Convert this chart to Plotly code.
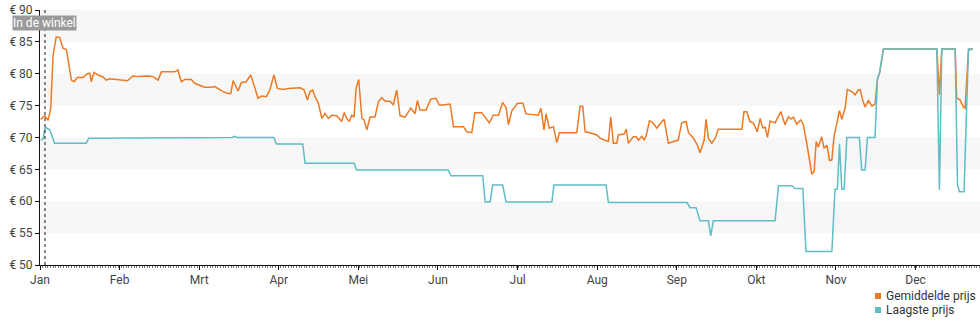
import plotly.graph_objects as go

months = ["Jan", "Feb", "Mrt", "Apr", "Mei", "Jun", "Jul", "Aug", "Sep", "Okt", "Nov", "Dec"]
y_ticks = [50, 55, 60, 65, 70, 75, 80, 85, 90]

avg_day = [0.3, 1.8, 3.1, 4.1, 5.0, 6.2, 7.5, 8.8, 10.1, 12.0, 13.0, 14.3, 16.4, 18.1, 19.0, 19.6, 20.6,
           22.2, 24.1, 25.3, 26.6, 29.8, 33.4, 35.5, 37.5, 41.3, 43.2, 45.1, 46.4, 51.5, 52.7, 54.0, 55.3,
           57.8, 59.1, 61.0, 62.9, 65.4, 66.8, 69.9, 71.9, 72.9, 73.8, 75.7, 76.9, 78.8, 80.5, 81.8, 83.3,
           84.6, 86.5, 87.8, 89.4, 90.7, 92.9, 94.8, 95.5, 97.8, 99.4, 100.9, 102.2, 103.2, 104.2, 105.1,
           106.4, 107.7, 108.9, 110.2, 111.5, 113.4, 115.3, 116.2, 117.2, 118.2, 119.1, 120.0, 120.8, 121.8,
           123.0, 123.8, 124.9, 126.1, 128.0, 129.3, 130.6, 131.9, 133.8, 135.0, 136.3, 137.6, 139.5, 141.7,
           143.3, 144.2, 145.2, 147.5, 149.3, 151.3, 152.6, 154.1, 156.7, 158.0, 161.8, 163.1, 165.0, 166.2,
           168.8, 170.1, 171.7, 173.2, 175.2, 176.8, 178.1, 179.0, 180.3, 182.4, 184.5, 185.7, 190.4, 191.4,
           192.6, 193.4, 194.6, 196.2, 197.5, 198.5, 205.1, 206.4, 207.4, 208.3, 210.2, 212.8, 214.0, 216.3,
           217.2, 218.1, 219.1, 220.4, 221.0, 223.2, 224.0, 224.8, 226.7, 227.8, 228.7, 230.0, 230.8, 231.6,
           232.9, 234.2, 235.7, 237.0, 238.5, 240.1, 242.0, 243.9, 245.2, 246.9, 247.8, 249.7, 251.2, 252.2,
           253.8, 254.5, 255.4, 256.7, 258.0, 259.2, 268.2, 269.0, 270.1, 271.3, 272.6, 274.1, 275.2, 276.2,
           277.1, 278.0, 279.0, 280.9, 283.1, 284.7, 286.0, 287.0, 287.9, 289.2, 290.7, 291.7, 293.0, 294.3,
           294.9, 295.8, 296.6, 297.4, 298.7, 299.6, 300.7, 301.7, 302.6, 303.4, 304.2, 305.5, 306.4, 307.7,
           308.5, 310.2, 311.5, 312.7, 313.4, 314.4, 315.3, 316.6, 317.9, 319.1, 320.0, 320.8, 322.3, 342.7,
           343.7, 344.6, 349.7, 350.3, 351.6, 352.9, 353.5, 354.8, 356.5]
avg_price = [72.85, 73.4, 72.7, 74.6, 82.9, 85.8, 85.7, 84.0, 83.8, 79.0, 78.75, 79.4, 79.4, 80.0, 80.1, 78.75, 80.2,
             79.8, 79.5, 79.0, 79.2, 79.1, 78.9, 79.65, 79.55, 79.65, 79.55, 79.0, 80.3, 80.3, 80.6, 78.75, 79.1,
             79.1, 78.5, 78.2, 77.9, 77.9, 78.0, 77.2, 76.9, 76.9, 78.9, 77.3, 78.6, 78.75, 79.8, 78.2, 76.15,
             76.5, 76.4, 77.45, 79.8, 77.7, 77.55, 77.7, 77.7, 77.8, 77.8, 77.45, 75.9, 77.2, 77.45, 76.4,
             75.35, 73.0, 73.8, 73.0, 73.5, 73.4, 72.5, 73.9, 73.0, 72.5, 73.5, 73.2, 77.7, 79.1,
             73.0, 72.8, 71.2, 73.2, 73.2, 75.6, 76.25, 75.7, 75.7, 75.1, 77.45, 73.4, 73.2, 74.6,
             73.7, 75.8, 74.3, 74.3, 76.0, 76.15, 75.1, 75.1, 75.25, 71.7, 71.7, 70.9, 70.75, 73.9,
             73.9, 73.2, 72.3, 73.5, 73.5, 75.5, 74.7, 72.0, 74.2, 75.35, 75.4, 73.7, 73.5, 74.6,
             71.2, 73.7, 71.45, 71.7, 69.2, 70.75, 70.75, 74.9, 74.9, 70.9, 70.75, 70.4, 69.9, 69.5,
             69.4, 73.2, 69.1, 69.1, 70.4, 70.55, 71.3, 69.1, 70.1, 70.1, 69.6, 70.2, 69.6, 70.2,
             72.65, 72.3, 71.45, 72.2, 72.85, 69.1, 69.3, 69.6, 72.3, 72.5, 70.75, 69.9, 68.8, 67.6,
             69.6, 72.85, 69.9, 69.1, 69.9, 71.3, 71.3, 74.05, 74.05, 72.5, 72.3, 70.9, 73.0, 71.5,
             71.6, 70.0, 72.6, 72.3, 74.05, 72.0, 73.25, 72.9, 73.2, 72.1, 72.75, 72.0, 69.1, 66.2,
             64.3, 64.6, 69.35, 68.5, 70.1, 68.3, 68.8, 66.4, 66.5, 70.1, 71.7, 74.2, 72.85, 74.7,
             77.55, 77.2, 76.7, 77.45, 77.5, 75.8, 74.8, 75.8, 74.95, 75.25, 79.1, 80.1, 83.9, 83.9,
             76.7, 83.9, 83.9, 76.15, 75.9, 74.75, 74.6, 83.7, 83.9]

low_day = [0.3, 1.2, 2.0, 3.7, 5.6, 17.7, 18.6, 45.8, 73.4, 74.4, 75.3, 89.4, 90.3, 100.4, 101.3, 120.0, 121.0,
           156.0, 157.0, 169.2, 170.1, 172.0, 173.0, 176.8, 178.1, 195.6, 196.4, 216.3, 217.2, 247.2, 248.4,
           250.7, 252.2, 255.4, 256.3, 257.3, 280.9, 282.2, 287.3, 288.5, 291.5, 292.7, 302.6, 303.8, 304.7,
           305.5, 306.4, 307.3, 308.3, 313.1, 314.0, 315.3, 316.2, 319.1, 320.0, 320.8, 322.3, 342.7, 343.7,
           344.6, 349.7, 350.6, 351.3, 353.1, 354.8, 356.5]
low_price = [69.6, 69.8, 71.6, 71.2, 69.1, 69.1, 69.9, 70.0, 70.0, 70.2, 70.0, 70.0, 69.0, 69.0, 65.95, 65.95, 64.9,
             64.9, 64.0, 64.0, 59.9, 59.9, 62.55, 62.55, 59.9, 59.9, 62.55, 62.55, 59.8, 59.8, 59.0,
             59.0, 56.95, 56.95, 54.55, 56.95, 56.95, 62.45, 62.45, 62.0, 62.0, 52.1, 52.1, 61.9, 61.9,
             69.0, 61.9, 61.9, 70.0, 70.0, 64.9, 64.9, 70.0, 70.0, 79.1, 80.1, 83.9, 83.9, 61.8,
             83.9, 83.9, 62.7, 61.5, 61.5, 83.9, 83.9]

store_day = 1.9
store_label = "In de winkel"
names = ["Gemiddelde prijs", "Laagste prijs"]
colors = ["#ec7a24", "#5fbdc4"]
days_per_month = 365 / 12

W, H = 980, 325
ML, MR, MT, MB = 40, 0, 10, 60
PW, PH = W - ML - MR, H - MT - MB

fig = go.Figure()
fig.add_trace(go.Scatter(x=avg_day, y=avg_price, mode="lines", line=dict(color=colors[0], width=1.5),
                         showlegend=False, name=names[0]))
fig.add_trace(go.Scatter(x=low_day, y=low_price, mode="lines", line=dict(color=colors[1], width=1.5),
                         showlegend=False, name=names[1]))

# alternating bands
for lo in [55, 65, 75, 85]:
    fig.add_shape(type="rect", xref="paper", yref="y", x0=0, x1=1, y0=lo, y1=lo + 5,
                  fillcolor="#f7f7f7", line=dict(width=0), layer="below")

fig.add_shape(type="line", xref="x", yref="paper", x0=store_day, x1=store_day, y0=0, y1=1,
              line=dict(color="#111", width=1, dash="dot"))
fig.add_annotation(x=store_day, y=1, xref="x", yref="paper", yanchor="top", yshift=-5,
                   text=store_label, showarrow=False, bgcolor="#9a9a9a",
                   font=dict(color="white", size=12, family="Roboto"), borderpad=0)

# manual legend (bottom right)
def px_x(p):
    return (p - ML) / PW

def px_y(p):
    return (H - MB - p) / PH

for i, (n, c) in enumerate(zip(names, colors)):
    cy = 296 + 14 * i
    fig.add_shape(type="rect", xref="paper", yref="paper",
                  x0=px_x(875), x1=px_x(881), y0=px_y(cy + 3), y1=px_y(cy - 3),
                  fillcolor=c, line=dict(width=0))
    fig.add_annotation(x=px_x(884), y=px_y(cy), xref="paper", yref="paper", xanchor="left",
                       yanchor="middle", text=n, showarrow=False,
                       font=dict(size=12, color="#333", family="Roboto"))

fig.update_layout(
    width=W, height=H,
    margin=dict(l=ML, r=MR, t=MT, b=MB),
    plot_bgcolor="white", paper_bgcolor="white",
    font=dict(family="Roboto", size=12, color="#444"),
    showlegend=False,
    xaxis=dict(range=[0, 359.2], tickmode="array",
               tickvals=[i * days_per_month for i in range(12)], ticktext=months,
               showgrid=False, zeroline=False, showline=True, linecolor="#111", linewidth=1,
               ticks="outside", ticklen=4, tickcolor="#111",
               minor=dict(tickmode="linear", tick0=0, dtick=1, ticks="outside", ticklen=2,
                          tickcolor="#777", showgrid=False)),
    yaxis=dict(range=[50, 90], tickmode="array", tickvals=y_ticks,
               ticktext=["€ %d" % v for v in y_ticks],
               showgrid=False, zeroline=False, showline=True, linecolor="#111", linewidth=1,
               ticks="outside", ticklen=4, tickcolor="#111"),
)

fig.write_html("out.html")
